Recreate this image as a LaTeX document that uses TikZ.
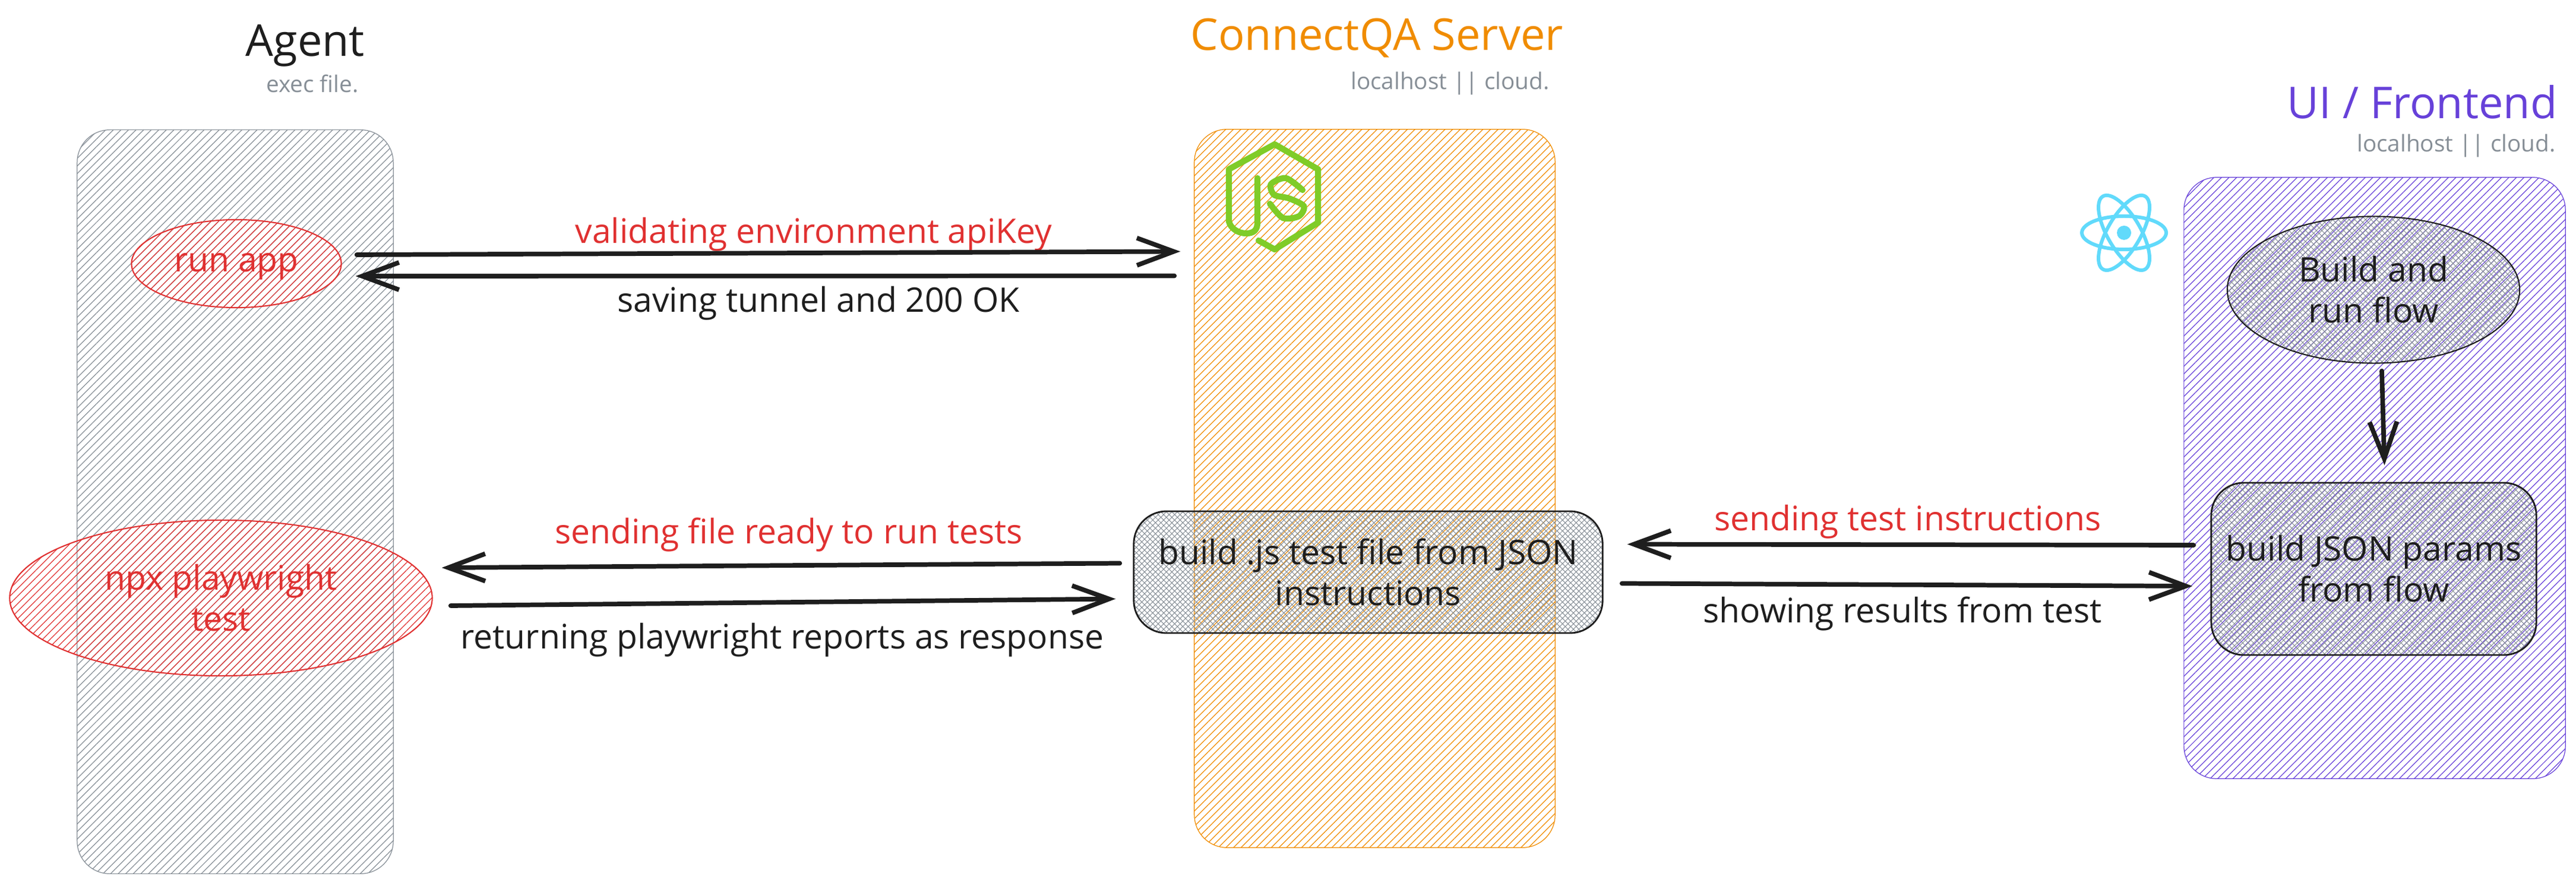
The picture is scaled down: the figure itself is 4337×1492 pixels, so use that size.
\documentclass[tikz,border=0pt]{standalone}
\usepackage{fontspec}
\usepackage{xcolor}
\usetikzlibrary{arrows.meta,patterns.meta,shapes.geometric}
\setmainfont{Open Sans}
\definecolor{inkblack}{HTML}{1E1E1E}
\definecolor{laneGray}{HTML}{868E96}
\definecolor{laneOrange}{HTML}{F08C00}
\definecolor{lanePurple}{HTML}{6741D9}
\definecolor{flowRed}{HTML}{E03131}
\definecolor{nodeGreen}{HTML}{7FCC28}
\definecolor{reactBlue}{HTML}{61DAFB}

\begin{document}
\begin{tikzpicture}%
  [x=0.01cm,y=-0.01cm,
   hatch/.style={pattern={Lines[angle=45,distance=.09cm,line width=.35pt]},pattern color=#1},
   cross hatch/.style={pattern={Lines[angle=45,distance=.065cm,line width=.3pt]},pattern color=#1,
     preaction={pattern={Lines[angle=-45,distance=.065cm,line width=.3pt]},pattern color=#1}}]
  \tikzstyle{lane node}=[rectangle,rounded corners=.55cm,inner sep=0,line width=.35pt]
  \tikzstyle{box node}=[rectangle,rounded corners=.55cm,inner sep=0,line width=.8pt,draw=inkblack,
    cross hatch=laneGray,text=inkblack,font=\fontsize{16.2}{19.6}\selectfont,align=center]
  \tikzstyle{oval node}=[ellipse,inner sep=0,line width=.6pt,font=\fontsize{16.2}{19.6}\selectfont,align=center]
  \tikzstyle{flow}=[-{Straight Barb[length=.62cm,width=.46cm,line width=2.2pt]},line width=2.2pt,
    line cap=round,color=inkblack]
  \tikzstyle{msg}=[font=\fontsize{16.2}{19.6}\selectfont,inner sep=0]
  \tikzstyle{title}=[font=\fontsize{21}{25}\selectfont,inner sep=0]
  \tikzstyle{sub}=[font=\fontsize{11}{14}\selectfont,inner sep=0,text=laneGray]
  \useasboundingbox (0,0) rectangle (4337,1492);

  \node(agent)[lane node,draw=laneGray,hatch=laneGray,minimum width=5.32cm,minimum height=12.52cm] at (396,845) {};
  \node(server)[lane node,draw=laneOrange,hatch=laneOrange,minimum width=6.07cm,minimum height=12.09cm] at (2314.5,822.5) {};
  \node(front)[lane node,draw=lanePurple,hatch=lanePurple,minimum width=6.42cm,minimum height=10.12cm] at (3998,805) {};

  \node(agent title)[title,text=inkblack] at (514,77) {Agent};
  \node(agent sub)[sub] at (526,141) {exec file.};
  \node(server title)[title,text=laneOrange] at (2318,64) {ConnectQA Server};
  \node(server sub)[sub,anchor=east] at (2609,140) {localhost || cloud.};
  \node(front title)[title,text=lanePurple,anchor=east] at (4306,172) {UI / Frontend};
  \node(front sub)[sub,anchor=east] at (4303,245) {localhost || cloud.};

  \node(run)[oval node,draw=flowRed,hatch=flowRed,text=flowRed,minimum width=3.53cm,minimum height=1.48cm] at (398,444) {\strut run app};
  \node(npx)[oval node,draw=flowRed,hatch=flowRed,text=flowRed,minimum width=7.11cm,minimum height=2.62cm] at (372,1007) {npx playwright\\test};
  \node(build js)[box node,minimum width=7.89cm,minimum height=2.05cm] at (2303.5,963.5) {build .js test file from JSON\\instructions};
  \node(flow)[oval node,draw=inkblack,cross hatch=laneGray,text=inkblack,minimum width=4.92cm,minimum height=2.47cm] at (3996,488) {Build and\\run flow};
  \node(params)[box node,minimum width=5.47cm,minimum height=2.9cm] at (3996.5,958) {build JSON params\\from flow};

  \node(env msg)[msg,text=flowRed] at (1370,395) {validating environment apiKey};
  \node(tunnel msg)[msg,text=inkblack] at (1378,511) {saving tunnel and 200 OK};
  \node(file msg)[msg,text=flowRed] at (1328,901) {sending file ready to run tests};
  \node(report msg)[msg,text=inkblack] at (1317,1078) {returning playwright reports as response};
  \node(test msg)[msg,text=flowRed] at (3212,879) {sending test instructions};
  \node(result msg)[msg,text=inkblack] at (3203,1034) {showing results from test};

  \draw[flow] ([shift={(25,-15)}]run.east) -- ([shift={(-23,-399)}]server.west);
  \draw[flow] ([shift={(-33,-358)}]server.west) -- ([shift={(23,21)}]run.east);
  \draw[flow] ([shift={(-23,-15)}]build js.west) -- ([shift={(15,-51)}]npx.east);
  \draw[flow] ([shift={(30,13)}]npx.east) -- ([shift={(-30,45)}]build js.west);
  \draw[flow] ([shift={(17,113)}]front.west) -- ([shift={(41,-47)}]build js.east);
  \draw[flow] ([shift={(32,19)}]build js.east) -- ([shift={(15,182)}]front.west);
  \draw[flow] ([shift={(14,12)}]flow.south) -- ([shift={(18,-28)}]params.north);

  % logos
  \draw[nodeGreen,line width=2.9pt,line cap=round,line join=round]
    (2119,405) -- (2146,420) -- (2219,375) -- (2219,285) -- (2146,243) -- (2069,285) -- (2069,373)
    .. controls (2072,385) and (2085,393) .. (2098,393)
    .. controls (2110,393) and (2117,388) .. (2117,375) -- (2117,300);
  \draw[nodeGreen,line width=2.9pt,line cap=round]
    plot[smooth] coordinates {(2193,320) (2165,300) (2140,310) (2145,328) (2170,334) (2195,347) (2187,364) (2160,367) (2138,343)};
  \foreach \ang in {0,60,120}
    \draw[reactBlue,line width=1.7pt,rotate around={\ang:(3576,392)}] (3576,392) ellipse (71 and 28);
  \fill[reactBlue] (3576,392) circle (12);
\end{tikzpicture}
\end{document}
